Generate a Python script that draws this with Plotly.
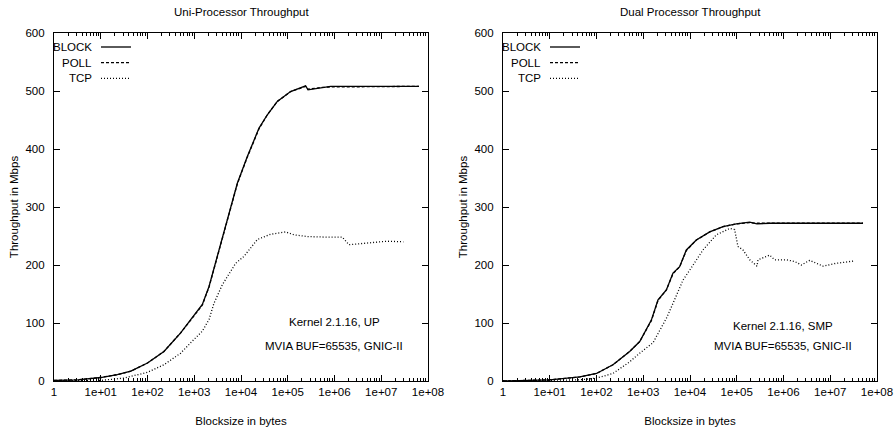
import plotly.graph_objects as go

# left panel (uni-processor)
up_block_x = [1, 3.2, 10, 22.6, 44, 100, 225, 512, 840, 1490, 2070, 3120, 5100, 8350, 13650,
              24300, 36600, 59800, 115000, 241000, 271000, 506000, 828000, 6.43e7]
up_block_y = [1, 2, 6, 11, 17, 31, 51, 83, 106, 132, 163, 215, 278, 341, 387,
              436, 459, 482, 499, 509, 502, 506, 508, 508]
up_poll_x = [1, 3.2, 10, 22.6, 44, 100, 225, 512, 840, 1490, 2070, 3120, 5100, 8350, 13650,
             24300, 36600, 59800, 115000, 241000, 271000, 506000, 828000, 6.43e7]
up_poll_y = [1, 2, 6, 11, 17, 31, 51, 83, 105, 131, 162, 214, 277, 340, 386,
             435, 459, 482, 499, 508, 503, 506, 507, 508]
up_tcp_x = [1, 10, 31, 100, 225, 512, 840, 1490, 2070, 2640, 3990, 7690, 11600, 22400, 43100,
            90200, 136000, 262000, 703000, 1.47e6, 2.04e6, 4.28e6, 8.24e6, 1.35e7, 2.97e7]
up_tcp_y = [0, 1, 5, 15, 28, 48, 66, 86, 106, 134, 166, 203, 215, 244, 253,
            257, 252, 249, 248, 248, 235, 237, 239, 241, 240]

# right panel (dual processor)
smp_block_x = [1, 10, 44, 100, 225, 512, 840, 1490, 2070, 3120, 4330, 6010, 8350, 13650,
               26400, 50800, 98000, 189000, 271000, 506000, 5.02e7]
smp_block_y = [0, 2, 7, 13, 28, 51, 68, 105, 140, 157, 186, 197, 226, 243,
               257, 266, 271, 274, 271, 272, 272]
smp_poll_x = [1, 10, 44, 100, 225, 512, 840, 1490, 2070, 3120, 4330, 6010, 8350, 13650,
              26400, 50800, 98000, 189000, 271000, 506000, 5.02e7]
smp_poll_y = [0, 2, 7, 13, 28, 51, 68, 104, 139, 157, 185, 197, 225, 243,
              257, 266, 271, 273, 272, 272, 272]
smp_tcp_x = [1, 10, 44, 100, 225, 512, 840, 1620, 3120, 4330, 7080, 9840, 19000, 36600,
             70500, 90200, 106000, 136000, 189000, 271000, 285000, 506000, 647000, 1.15e6,
             1.73e6, 2.41e6, 3.63e6, 7.0e6, 1.35e7, 3.33e7]
smp_tcp_y = [0, 1, 2, 5, 13, 33, 48, 66, 108, 134, 174, 191, 226, 252,
             263, 261, 232, 226, 209, 198, 209, 217, 209, 209,
             206, 200, 208, 198, 203, 207]

titles = ["Uni-Processor Throughput", "Dual Processor Throughput"]
notes = [["Kernel 2.1.16, UP", "MVIA BUF=65535, GNIC-II"],
         ["Kernel 2.1.16, SMP", "MVIA BUF=65535, GNIC-II"]]
series = ["BLOCK", "POLL", "TCP"]
x_ticks = [1, 10, 100, 1e3, 1e4, 1e5, 1e6, 1e7, 1e8]
x_labels = ["1", "1e+01", "1e+02", "1e+03", "1e+04", "1e+05", "1e+06", "1e+07", "1e+08"]

FONT = "Liberation Sans Narrow, Liberation Sans, Arial, sans-serif"
FS = 11.5
W, H = 895, 432
dashes = ["solid", "3px,2px", "1px,2px"]

fig = go.Figure()
panels = [
    [(up_block_x, up_block_y), (up_poll_x, up_poll_y), (up_tcp_x, up_tcp_y)],
    [(smp_block_x, smp_block_y), (smp_poll_x, smp_poll_y), (smp_tcp_x, smp_tcp_y)],
]
left_px = [54, 503]
right_px = [428, 877]
top_px, bot_px = 33, 381

for p, data in enumerate(panels):
    xa = "x" if p == 0 else "x2"
    ya = "y" if p == 0 else "y2"
    for i, (xs, ys) in enumerate(data):
        fig.add_trace(go.Scatter(x=xs, y=ys, mode="lines", name=series[i], xaxis=xa, yaxis=ya,
                                 line=dict(color="black", width=1.3, dash=dashes[i]),
                                 showlegend=False))

axis_common = dict(showline=True, linecolor="black", linewidth=1.2, mirror="ticks",
                   ticks="inside", tickcolor="black", showgrid=False, zeroline=False,
                   automargin=False,
                   tickfont=dict(family=FONT, size=FS, color="black"))


def txt(text, px, py, xanchor="center", size=FS):
    fig.add_annotation(text=text, x=px / W, y=1 - py / H, xref="paper", yref="paper",
                       xanchor=xanchor, yanchor="middle", showarrow=False,
                       font=dict(family=FONT, size=size, color="black"))


for p in range(2):
    sfx = "" if p == 0 else "2"
    dom_x = [left_px[p] / W, right_px[p] / W]
    dom_y = [1 - bot_px / H, 1 - top_px / H]
    fig.update_layout(**{
        "xaxis" + sfx: dict(axis_common, type="log", range=[0, 8], domain=dom_x,
                            tickvals=x_ticks, ticktext=x_labels, ticklen=6,
                            minor=dict(ticks="inside", ticklen=3, tickcolor="black", dtick="D1",
                                       showgrid=False),
                            anchor="y" + sfx,
                            title=dict(text="Blocksize in bytes", standoff=20,
                                       font=dict(family=FONT, size=FS, color="black"))),
        "yaxis" + sfx: dict(axis_common, range=[0, 600], dtick=100, domain=dom_y, ticklen=6,
                            anchor="x" + sfx, ticklabelstandoff=6,
                            title=dict(text="Throughput in Mbps", standoff=4,
                                       font=dict(family=FONT, size=FS, color="black"))),
    })

    txt(titles[p], (left_px[p] + right_px[p]) / 2, 12)

    # notes
    for t, py in zip(notes[p], [322 if p == 0 else 326, 346]):
        txt(t, left_px[p] + 280, py)

    # gnuplot style key: label then line sample
    for i, name in enumerate(series):
        py = 47 + i * 15.7
        txt(name, left_px[p] + 40, py, xanchor="right")
        fig.add_shape(type="line", xref="paper", yref="paper",
                      x0=(left_px[p] + 47) / W, x1=(left_px[p] + 77) / W,
                      y0=1 - py / H, y1=1 - py / H,
                      line=dict(color="black", width=1.3, dash=dashes[i]))

fig.update_layout(width=W, height=H, margin=dict(l=0, r=0, t=0, b=0),
                  plot_bgcolor="white", paper_bgcolor="white",
                  font=dict(family=FONT, size=FS, color="black"))
# the page's default body margin would shift the figure by 8px
fig.write_html("out.html", config={"displayModeBar": False},
               post_script="document.body.style.margin='0px';")
